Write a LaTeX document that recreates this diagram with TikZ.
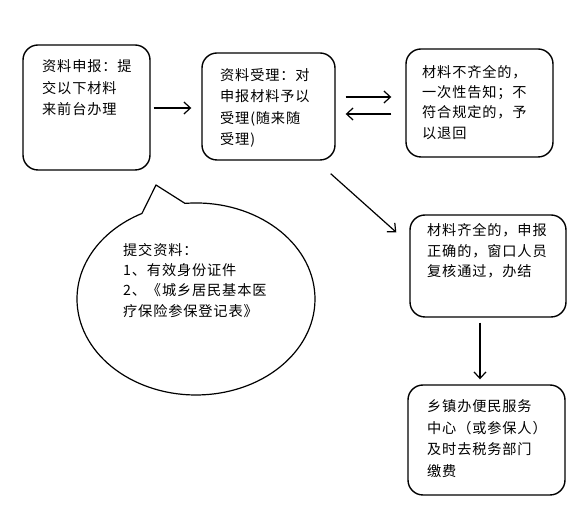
\documentclass[tikz,border=0pt]{standalone}
\usepackage{fontspec}
\setmainfont{Noto Sans CJK SC}[LetterSpace=6]
\usetikzlibrary{arrows.meta,calc}
\begin{document}
\begin{tikzpicture}[x=1pt,y=-1pt,
  box/.style={draw, rounded corners=15pt, line width=1.4pt, inner sep=0pt},
  txt/.style={anchor=north west, inner sep=0pt, align=left, font=\fontsize{14.2}{21.5}\selectfont},
  txtb/.style={anchor=north west, inner sep=0pt, align=left, font=\fontsize{14.2}{20.3}\selectfont},
  arr/.style={line width=1.2pt, -{Straight Barb[length=6.5pt,width=12pt,line width=1.2pt]}}]
\useasboundingbox (0,0) rectangle (582,518);
% boxes
\node[box, minimum width=127pt, minimum height=125pt] (b1) at (86.5,107.5) {};
\node[box, minimum width=133pt, minimum height=107pt] (b2) at (268.5,106.5) {};
\node[box, minimum width=147pt, minimum height=108pt] (b3) at (479.5,103) {};
\node[box, minimum width=156pt, minimum height=102pt] (b4) at (488,266) {};
\node[box, minimum width=157pt, minimum height=110pt] (b5) at (486.5,440) {};
% texts
\node[txt] (t1) at (42,59.5) {资料申报：提\\交以下材料\\来前台办理};
\node[txt] (t2) at (220,68) {资料受理：对\\申报材料予以\\受理(随来随\\受理)};
\node[txtb] (t3) at (422,65) {材料不齐全的，\\一次性告知；不\\符合规定的，予\\以退回};
\node[txtb] (t4) at (427,223.5) {材料齐全的，申报\\正确的，窗口人员\\复核通过，办结};
\node[txt] (t5) at (427,399.5) {乡镇办便民服务\\中心（或参保人）\\及时去税务部门\\缴费};
% speech bubble
\coordinate (tip) at (156,185);
\draw[line width=1.2pt, line join=round] (185,203.4) arc[start angle=95.3, end angle=-243, x radius=119pt, y radius=96pt] -- (tip) -- cycle;
\node[txtb] (t6) at (123,243) {提交资料：\\1、有效身份证件\\2、《城乡居民基本医\\疗保险参保登记表》};
% connectors
\draw[arr] ([xshift=3pt,yshift=-0.5pt]b1.east) -- ([xshift=-10pt,yshift=-1.5pt]b2.west);
\draw[arr] ([xshift=10pt,yshift=9.5pt]b2.east) -- ([xshift=-14pt,yshift=6pt]b3.west);
\draw[arr] ([xshift=-14pt,yshift=-11pt]b3.west) -- ([xshift=10pt,yshift=-7.5pt]b2.east);
\draw[arr] ([xshift=-5pt,yshift=-13pt]b2.south east) -- ([xshift=-13pt,yshift=-18pt]b4.north west);
\draw[arr] ([xshift=-8pt,yshift=-5pt]b4.south) -- ([xshift=-6.5pt,yshift=5pt]b5.north);
\end{tikzpicture}
\end{document}
